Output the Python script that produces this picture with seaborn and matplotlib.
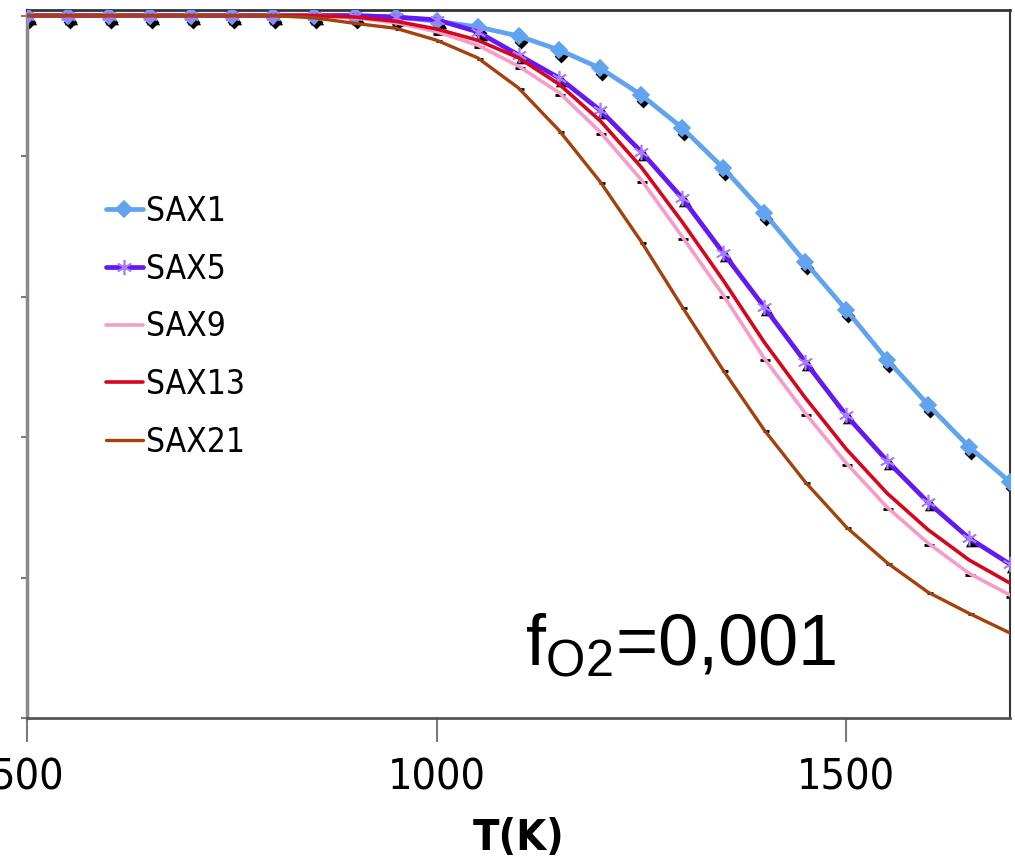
import numpy as np
import pandas as pd
import matplotlib
matplotlib.use("Agg")
import matplotlib.pyplot as plt
import seaborn as sns
from matplotlib.transforms import ScaledTranslation

# ---------------- data ----------------
temps = [500, 550, 600, 650, 700, 750, 800, 850, 900, 950, 1000, 1050, 1100,
         1150, 1200, 1250, 1300, 1350, 1400, 1450, 1500, 1550, 1600, 1650, 1700]
sax1 = [1.0, 1.0, 1.0, 1.0, 1.0, 1.0, 1.0, 1.0, 1.0, 0.998, 0.992, 0.984, 0.971,
        0.951, 0.925, 0.887, 0.840, 0.783, 0.719, 0.649, 0.581, 0.510, 0.446, 0.386, 0.336]
sax5 = [1.0, 1.0, 1.0, 1.0, 1.0, 1.0, 1.0, 1.0, 1.0, 0.998, 0.994, 0.977, 0.944,
        0.911, 0.865, 0.806, 0.740, 0.662, 0.585, 0.507, 0.431, 0.366, 0.307, 0.256, 0.219]
sax9 = [1.0, 1.0, 1.0, 1.0, 1.0, 1.0, 1.0, 1.0, 0.997, 0.990, 0.977, 0.958, 0.928,
        0.890, 0.834, 0.766, 0.685, 0.602, 0.512, 0.434, 0.363, 0.300, 0.249, 0.206, 0.175]
sax13 = [1.0, 1.0, 1.0, 1.0, 1.0, 1.0, 1.0, 1.0, 0.998, 0.992, 0.981, 0.965, 0.940,
         0.902, 0.850, 0.784, 0.706, 0.623, 0.535, 0.456, 0.383, 0.320, 0.268, 0.225, 0.192]
sax21 = [1.0, 1.0, 1.0, 1.0, 1.0, 1.0, 1.0, 0.997, 0.989, 0.982, 0.965, 0.940, 0.897,
         0.836, 0.763, 0.678, 0.585, 0.495, 0.410, 0.336, 0.272, 0.221, 0.179, 0.149, 0.121]
series_names = ["SAX1", "SAX5", "SAX9", "SAX13", "SAX21"]
x_ticks = [500, 1000, 1500]
x_tick_labels = ["500", "1000", "1500"]
y_ticks = [0.0, 0.2, 0.4, 0.6, 0.8, 1.0]
x_label = "T(K)"
note_text = r"f$_{\mathrm{O2}}$=0,001"

# ---------------- styles ----------------
colors = {"SAX1": "#62a3ef", "SAX5": "#6418f2", "SAX9": "#f69cc6",
          "SAX13": "#d8061c", "SAX21": "#a4420f"}
widths = {"SAX1": 3.4, "SAX5": 3.4, "SAX9": 2.6, "SAX13": 2.6, "SAX21": 2.4}
line_markers = {"SAX1": "D", "SAX5": (6, 2, 0), "SAX9": None, "SAX13": None, "SAX21": None}
marker_cols = {"SAX1": "#62a3ef", "SAX5": "#a77cff"}
black_markers = {"SAX1": ("D", 5, (2, -6)), "SAX5": ((3, 0, 0), 7, (3, -5)),
                 "SAX9": ("_", 7, (1, -2)), "SAX21": ("_", 5, (2, -1))}

df = pd.DataFrame({"T": temps, "SAX1": sax1, "SAX5": sax5, "SAX9": sax9,
                   "SAX13": sax13, "SAX21": sax21})
long = df.melt(id_vars="T", var_name="series", value_name="frac")

sns.set_theme(style="white")
plt.rcParams["font.family"] = ["DejaVu Sans"]
plt.rcParams["text.color"] = "black"
plt.rcParams["xtick.color"] = "black"
plt.rcParams["mathtext.fontset"] = "custom"
plt.rcParams["mathtext.rm"] = "Liberation Sans"
plt.rcParams["mathtext.it"] = "Liberation Sans"
plt.rcParams["mathtext.default"] = "regular"

W, H = 1015, 868
fig = plt.figure(figsize=(W / 100, H / 100), dpi=100)
fig.patch.set_facecolor("white")
ax = fig.add_axes([27 / W, 1 - 718 / H, (1010 - 27) / W, (718 - 10) / H])

# black overlay markers (drawn first, slightly offset)
for name in series_names:
    if name not in black_markers:
        continue
    sub = long[long["series"] == name]
    mk, ms, (dx, dy) = black_markers[name]
    tr = ax.transData + ScaledTranslation(dx / 100, dy / 100, fig.dpi_scale_trans)
    ax.plot(sub["T"], sub["frac"], linestyle="none", marker=mk, markersize=ms,
            color="black", markeredgecolor="black", markeredgewidth=2.0,
            transform=tr, zorder=2)

for name in series_names:
    sub = long[long["series"] == name]
    kw = {}
    if line_markers[name] is not None:
        kw = dict(marker=line_markers[name], markersize=8 if name == "SAX1" else 11,
                  markerfacecolor=marker_cols[name], markeredgecolor=marker_cols[name],
                  markeredgewidth=1.2)
    sns.lineplot(data=sub, x="T", y="frac", color=colors[name], linewidth=widths[name],
                 label=name, ax=ax, zorder=3, **kw)

ax.set_xlim(500, 1700)
ax.set_ylim(0, 1.008)
ax.set_xticks(x_ticks)
ax.set_xticklabels(x_tick_labels)
ax.set_yticks(y_ticks)
ax.set_yticklabels([])
ax.set_ylabel("")
ax.set_xlabel(x_label, fontsize=31, fontweight="bold", labelpad=13,
              fontstretch="condensed", color="black")

for lab in ax.get_xticklabels():
    lab.set_fontsize(31)
    lab.set_fontstretch("condensed")
    lab.set_color("black")

ax.tick_params(axis="x", direction="out", length=17, width=1.5, color="#7a7a7a",
               pad=11, bottom=True)
ax.tick_params(axis="y", direction="out", length=4, width=1.5, color="#7a7a7a",
               left=True)

ax.spines["left"].set_color("#8a8a8a")
ax.spines["left"].set_linewidth(2.5)
ax.spines["bottom"].set_color("#555555")
ax.spines["bottom"].set_linewidth(2.0)
ax.spines["top"].set_color("#333333")
ax.spines["top"].set_linewidth(2.0)
ax.spines["right"].set_color("#333333")
ax.spines["right"].set_linewidth(1.5)
for s in ax.spines.values():
    s.set_visible(True)

leg = ax.legend(loc="upper left", bbox_to_anchor=(106 / W, 1 - 195 / H),
                bbox_transform=fig.transFigure, frameon=False, fontsize=24,
                handlelength=1.1, handletextpad=0.1, labelspacing=0.74,
                borderpad=0, borderaxespad=0)
for t in leg.get_texts():
    t.set_fontstretch("condensed")
    t.set_color("black")

fig.text(525 / W, 1 - 665 / H, note_text, fontsize=52, family="Liberation Sans",
         va="baseline", ha="left", color="black")

fig.savefig("out.png", dpi=100, facecolor="white")
